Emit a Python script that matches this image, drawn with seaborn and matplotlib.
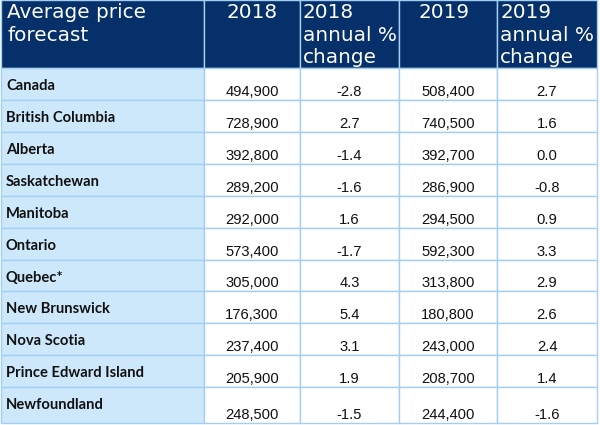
import numpy as np
import matplotlib
matplotlib.use("Agg")
import matplotlib.pyplot as plt
from matplotlib.colors import ListedColormap
import seaborn as sns

# ---- data ----
header_title = ["Average price", "forecast"]
col_headers = [["2018"], ["2018", "annual %", "change"], ["2019"], ["2019", "annual %", "change"]]
provinces = ["Canada", "British Columbia", "Alberta", "Saskatchewan", "Manitoba",
             "Ontario", "Quebec*", "New Brunswick", "Nova Scotia",
             "Prince Edward Island", "Newfoundland"]
price_2018 = [494900, 728900, 392800, 289200, 292000, 573400, 305000, 176300, 237400, 205900, 248500]
change_2018 = [-2.8, 2.7, -1.4, -1.6, 1.6, -1.7, 4.3, 5.4, 3.1, 1.9, -1.5]
price_2019 = [508400, 740500, 392700, 286900, 294500, 592300, 313800, 180800, 243000, 208700, 244400]
change_2019 = [2.7, 1.6, 0.0, -0.8, 0.9, 3.3, 2.9, 2.6, 2.4, 1.4, -1.6]

# ---- layout (pixels) ----
x_edges = np.array([1, 204, 300, 399, 497, 597])
y_edges = np.array([0, 68, 100, 132, 164, 196, 228, 260, 291, 323, 355, 387, 423])

NAVY = "#06306a"
LIGHT = "#cde8fb"
LINE = "#a4cff3"

sns.set_theme(style="white")
plt.rcParams["font.family"] = ["DejaVu Sans"]

fig = plt.figure(figsize=(6.0, 4.25), dpi=100)
ax = fig.add_axes([0, 0, 1, 1])
ax.set_xlim(0, 600)
ax.set_ylim(425, 0)
ax.axis("off")

nrows = len(provinces) + 1
ncols = 5
codes = np.full((nrows, ncols), 2)
codes[0, :] = 0
codes[1:, 0] = 1
cmap = ListedColormap([NAVY, LIGHT, "white"])
ax.pcolormesh(x_edges, y_edges, codes, cmap=cmap, vmin=-0.5, vmax=2.5,
              edgecolors=LINE, linewidth=1.0, antialiased=True)

# header text
hdr_kw = dict(color="white", fontsize=14.4, family="DejaVu Sans", va="baseline")
for i, line in enumerate(header_title):
    ax.text(7, 18 + i * 22.5, line, ha="left", **hdr_kw)
col_centers = (x_edges[1:-1] + x_edges[2:]) / 2
for j, lines in enumerate(col_headers):
    if len(lines) == 1:
        ax.text(col_centers[j] - (4 if j == 2 else 0), 18, lines[0], ha="center", **hdr_kw)
    else:
        for i, line in enumerate(lines):
            ax.text(x_edges[j + 1] + 3, 18 + i * 22.5, line, ha="left", **hdr_kw)

# body text
def fmt_price(v):
    return f"{v:,}"

def fmt_pct(v):
    return f"{v:.1f}"

columns = [
    [fmt_price(v) for v in price_2018],
    [fmt_pct(v) for v in change_2018],
    [fmt_price(v) for v in price_2019],
    [fmt_pct(v) for v in change_2019],
]
for r, name in enumerate(provinces):
    top = y_edges[r + 1]
    bottom = y_edges[r + 2]
    ax.text(6, top + 22, name, ha="left", va="baseline", fontsize=10.6,
            fontweight="bold", family="Lato", color="#111111")
    for j, col in enumerate(columns):
        ax.text(col_centers[j], bottom - 4, col[r], ha="center", va="baseline",
                fontsize=10.6, family="Liberation Sans", color="#111111")

fig.savefig("out.png", dpi=100, facecolor="white")
